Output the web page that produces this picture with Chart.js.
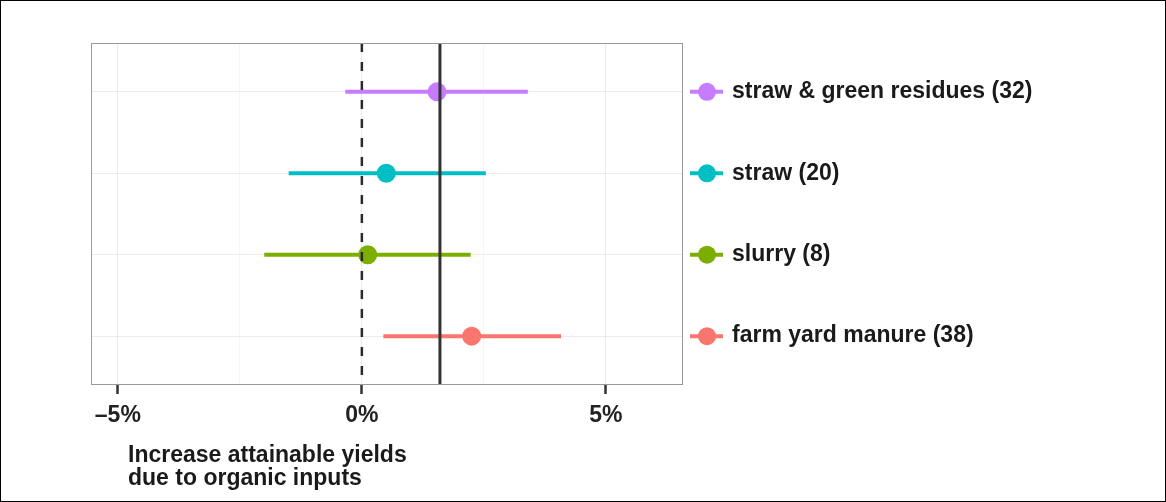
<!DOCTYPE html>
<html>
<head>
<meta charset="utf-8">
<script src="https://cdn.jsdelivr.net/npm/chart.js@4"></script>
<style>
    html, body { margin: 0; padding: 0; background: #ffffff; }
    #wrap { width: 1166px; height: 502px; position: relative; }
</style>
</head>
<body>
<div id="wrap"><canvas id="forestChart" width="1166" height="502"></canvas></div>
<script>
// Organic inputs: mean effect and interval (% change of attainable yield)
// bottom row first
const categories = ['farm yard manure (38)', 'slurry (8)', 'straw (20)', 'straw & green residues (32)'];
const estimates = [2.25, 0.12, 0.50, 1.54];
const lowerCI = [0.44, -2.00, -1.50, -0.34];
const upperCI = [4.08, 2.23, 2.54, 3.40];
const overallMean = 1.60;
const referenceValue = 0;

const xTicks = [-5, -2.5, 0, 2.5, 5];
const xTickLabels = ['\u20135%', '', '0%', '', '5%'];
const axisNote = ['Increase attainable yields', 'due to organic inputs'];

const colors = ['#F8766D', '#7CAE00', '#00BFC4', '#C77CFF'];
const FONT = '"Liberation Sans", Arial, Helvetica, sans-serif';

const yMin = -0.6;
const yMax = categories.length - 1 + 0.6;

// one dataset per category: low - estimate - high, dot only on the estimate
const rowSets = categories.map((name, i) => ({
    label: name,
    data: [
        { x: lowerCI[i], y: i },
        { x: estimates[i], y: i },
        { x: upperCI[i], y: i },
    ],
    borderColor: colors[i],
    backgroundColor: colors[i],
    borderWidth: 4,
    pointRadius: (ctx) => ctx.dataIndex === 1 ? 9.5 : 0,
    pointBorderWidth: 0,
    pointHoverRadius: 0,
    order: 2,
}));

// vertical reference lines, drawn top to bottom so the dashes start at the top
const refLines = [
    {
        label: 'zero',
        data: [{ x: referenceValue, y: yMax }, { x: referenceValue, y: yMin }],
        borderColor: '#2b2b2b',
        borderWidth: 2.5,
        borderDash: [9, 10],
        pointRadius: 0,
        order: 1,
    },
    {
        label: 'mean',
        data: [{ x: overallMean, y: yMax }, { x: overallMean, y: yMin }],
        borderColor: '#333333',
        borderWidth: 3,
        pointRadius: 0,
        order: 1,
    },
];

// frame, legend keys and the axis note
const decorations = {
    id: 'decorations',
    afterDraw(chart) {
        const { ctx, chartArea, scales } = chart;
        ctx.save();

        // panel border
        ctx.strokeStyle = '#9a9a9a';
        ctx.lineWidth = 1;
        ctx.strokeRect(chartArea.left + 0.5, chartArea.top + 0.5,
            chartArea.right - chartArea.left - 1, chartArea.bottom - chartArea.top - 1);

        // legend keys next to the row labels
        categories.forEach((_, i) => {
            const y = scales.yLabels.getPixelForValue(i);
            ctx.strokeStyle = colors[i];
            ctx.lineWidth = 4;
            ctx.beginPath();
            ctx.moveTo(chartArea.right + 7, y);
            ctx.lineTo(chartArea.right + 40, y);
            ctx.stroke();
            ctx.fillStyle = colors[i];
            ctx.beginPath();
            ctx.arc(chartArea.right + 24, y, 9, 0, Math.PI * 2);
            ctx.fill();
        });

        // axis note under the x axis
        ctx.fillStyle = '#1a1a1a';
        ctx.font = 'bold 23px ' + FONT;
        ctx.textAlign = 'left';
        ctx.textBaseline = 'middle';
        axisNote.forEach((line, k) => {
            ctx.fillText(line, 128, 456 + k * 23);
        });

        // outer frame of the figure
        ctx.strokeStyle = '#000000';
        ctx.lineWidth = 1;
        ctx.strokeRect(0.5, 0.5, chart.width - 1, chart.height - 1);
        ctx.restore();
    }
};

const chart = new Chart(document.getElementById('forestChart').getContext('2d'), {
    type: 'line',
    data: { datasets: [...refLines, ...rowSets] },
    options: {
        responsive: false,
        animation: false,
        layout: { padding: { left: 91, top: 43, right: 0, bottom: 0 } },
        plugins: {
            legend: { display: false },
            tooltip: { enabled: false },
        },
        scales: {
            x: {
                type: 'linear',
                position: 'bottom',
                min: -5.55,
                max: 6.58,
                afterBuildTicks: (scale) => {
                    scale.ticks = xTicks.map(v => ({ value: v }));
                },
                afterFit: (scale) => {
                    scale.height = 117;
                    scale.paddingLeft = 0;
                    scale.paddingRight = 0;
                },
                ticks: {
                    autoSkip: false,
                    maxRotation: 0,
                    padding: 8,
                    color: '#222222',
                    font: { family: FONT, size: 23, weight: 'bold' },
                    callback: (value) => xTickLabels[xTicks.indexOf(value)] ?? '',
                },
                grid: {
                    color: (ctx) => ctx.tick && ctx.tick.value % 5 === 0 ? '#ebebeb' : '#f5f5f5',
                    tickColor: (ctx) => ctx.tick && ctx.tick.value % 5 === 0 ? '#333333' : 'rgba(0,0,0,0)',
                    tickLength: 9,
                    tickWidth: 2.5,
                    lineWidth: 1,
                },
                border: { display: false },
            },
            y: {
                type: 'linear',
                display: false,
                min: yMin,
                max: yMax,
            },
            yLabels: {
                type: 'linear',
                position: 'right',
                min: yMin,
                max: yMax,
                afterBuildTicks: (scale) => {
                    scale.ticks = categories.map((_, i) => ({ value: i }));
                },
                afterFit: (scale) => {
                    scale.width = 483;
                    scale.paddingTop = 0;
                    scale.paddingBottom = 0;
                },
                ticks: {
                    padding: 49,
                    color: '#1a1a1a',
                    font: { family: FONT, size: 23, weight: 'bold' },
                    callback: (value) => categories[value] ?? '',
                },
                grid: {
                    color: '#ebebeb',
                    drawTicks: false,
                    lineWidth: 1,
                },
                border: { display: false },
            },
        },
    },
    plugins: [decorations],
});
</script>
</body>
</html>
